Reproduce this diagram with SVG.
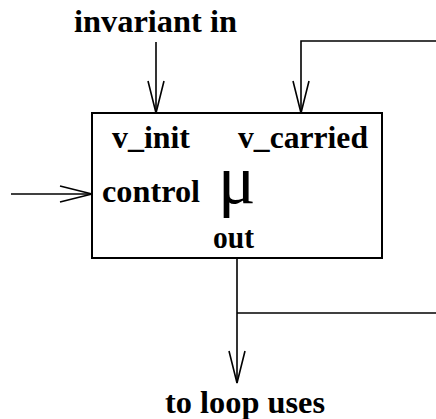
<svg xmlns="http://www.w3.org/2000/svg" width="436" height="419" viewBox="0 0 436 419">
<defs>
<style>
text{font-family:'Liberation Serif','DejaVu Serif',serif;fill:#000}
.lbl{font-weight:bold;font-size:31px}
.mu{font-size:70px}
.ln{fill:none;stroke:#000;stroke-width:1.6}
</style>
<marker id="v" markerUnits="userSpaceOnUse" viewBox="0 0 34 18" refX="33" refY="9" markerWidth="34" markerHeight="18" orient="auto">
<path d="M1,1 L33,9 L1,17" fill="none" stroke="#000" stroke-width="1.6"/>
</marker>
</defs>
<rect width="436" height="419" fill="#fff"/>
<g id="connectors">
<path class="ln" d="M156,42 V113" marker-end="url(#v)"/>
<path class="ln" d="M436,41 H301 V113" marker-end="url(#v)"/>
<path class="ln" d="M11,194 H92" marker-end="url(#v)"/>
<path class="ln" d="M237,258 V383" marker-end="url(#v)"/>
<path class="ln" d="M237,313 H436"/>
</g>
<g id="mu-node">
<rect x="92" y="113" width="290" height="145" fill="#fff" stroke="#000" stroke-width="2"/>
<text class="lbl" x="112" y="148" textLength="78" lengthAdjust="spacingAndGlyphs">v_init</text>
<text class="lbl" x="238" y="148" textLength="130" lengthAdjust="spacingAndGlyphs">v_carried</text>
<text class="lbl" x="102" y="202" textLength="98" lengthAdjust="spacingAndGlyphs">control</text>
<text class="mu" x="218" y="203">μ</text>
<text class="lbl" x="213" y="248" textLength="41" lengthAdjust="spacingAndGlyphs">out</text>
</g>
<g id="label-invariant">
<text class="lbl" x="74" y="32" textLength="163" lengthAdjust="spacingAndGlyphs">invariant in</text>
</g>
<g id="label-uses">
<text class="lbl" x="165" y="413" textLength="160" lengthAdjust="spacingAndGlyphs">to loop uses</text>
</g>
</svg>
